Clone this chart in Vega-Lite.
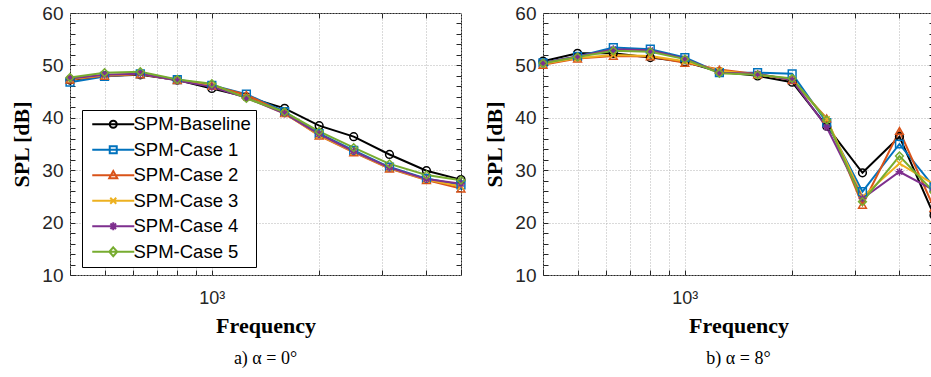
{
  "$schema": "https://vega.github.io/schema/vega-lite/v6.json",
  "background": "white",
  "padding": {"left": 10, "top": 3, "right": 0, "bottom": 0},
  "datasets": {
    "a": [
      {"f": 400, "s": "SPM-Baseline", "v": 47.2}, {"f": 500, "s": "SPM-Baseline", "v": 48.0}, {"f": 630, "s": "SPM-Baseline", "v": 48.2}, {"f": 800, "s": "SPM-Baseline", "v": 47.2}, {"f": 1000, "s": "SPM-Baseline", "v": 45.6}, {"f": 1250, "s": "SPM-Baseline", "v": 44.0}, {"f": 1600, "s": "SPM-Baseline", "v": 41.8}, {"f": 2000, "s": "SPM-Baseline", "v": 38.5}, {"f": 2500, "s": "SPM-Baseline", "v": 36.4}, {"f": 3150, "s": "SPM-Baseline", "v": 33.0}, {"f": 4000, "s": "SPM-Baseline", "v": 29.9}, {"f": 5000, "s": "SPM-Baseline", "v": 28.2},
      {"f": 400, "s": "SPM-Case 1", "v": 46.8}, {"f": 500, "s": "SPM-Case 1", "v": 47.9}, {"f": 630, "s": "SPM-Case 1", "v": 48.4}, {"f": 800, "s": "SPM-Case 1", "v": 47.3}, {"f": 1000, "s": "SPM-Case 1", "v": 46.2}, {"f": 1250, "s": "SPM-Case 1", "v": 44.5}, {"f": 1600, "s": "SPM-Case 1", "v": 41.2}, {"f": 2000, "s": "SPM-Case 1", "v": 37.0}, {"f": 2500, "s": "SPM-Case 1", "v": 33.8}, {"f": 3150, "s": "SPM-Case 1", "v": 30.6}, {"f": 4000, "s": "SPM-Case 1", "v": 28.4}, {"f": 5000, "s": "SPM-Case 1", "v": 27.2},
      {"f": 400, "s": "SPM-Case 2", "v": 47.3}, {"f": 500, "s": "SPM-Case 2", "v": 48.0}, {"f": 630, "s": "SPM-Case 2", "v": 48.3}, {"f": 800, "s": "SPM-Case 2", "v": 47.2}, {"f": 1000, "s": "SPM-Case 2", "v": 46.1}, {"f": 1250, "s": "SPM-Case 2", "v": 44.4}, {"f": 1600, "s": "SPM-Case 2", "v": 40.9}, {"f": 2000, "s": "SPM-Case 2", "v": 36.6}, {"f": 2500, "s": "SPM-Case 2", "v": 33.4}, {"f": 3150, "s": "SPM-Case 2", "v": 30.3}, {"f": 4000, "s": "SPM-Case 2", "v": 28.1}, {"f": 5000, "s": "SPM-Case 2", "v": 26.5},
      {"f": 400, "s": "SPM-Case 3", "v": 47.4}, {"f": 500, "s": "SPM-Case 3", "v": 48.1}, {"f": 630, "s": "SPM-Case 3", "v": 48.4}, {"f": 800, "s": "SPM-Case 3", "v": 47.2}, {"f": 1000, "s": "SPM-Case 3", "v": 46.0}, {"f": 1250, "s": "SPM-Case 3", "v": 43.9}, {"f": 1600, "s": "SPM-Case 3", "v": 40.8}, {"f": 2000, "s": "SPM-Case 3", "v": 36.7}, {"f": 2500, "s": "SPM-Case 3", "v": 33.5}, {"f": 3150, "s": "SPM-Case 3", "v": 30.4}, {"f": 4000, "s": "SPM-Case 3", "v": 28.2}, {"f": 5000, "s": "SPM-Case 3", "v": 26.9},
      {"f": 400, "s": "SPM-Case 4", "v": 47.5}, {"f": 500, "s": "SPM-Case 4", "v": 48.2}, {"f": 630, "s": "SPM-Case 4", "v": 48.4}, {"f": 800, "s": "SPM-Case 4", "v": 47.1}, {"f": 1000, "s": "SPM-Case 4", "v": 45.9}, {"f": 1250, "s": "SPM-Case 4", "v": 43.8}, {"f": 1600, "s": "SPM-Case 4", "v": 40.8}, {"f": 2000, "s": "SPM-Case 4", "v": 36.9}, {"f": 2500, "s": "SPM-Case 4", "v": 33.6}, {"f": 3150, "s": "SPM-Case 4", "v": 30.5}, {"f": 4000, "s": "SPM-Case 4", "v": 28.3}, {"f": 5000, "s": "SPM-Case 4", "v": 27.4},
      {"f": 400, "s": "SPM-Case 5", "v": 47.7}, {"f": 500, "s": "SPM-Case 5", "v": 48.6}, {"f": 630, "s": "SPM-Case 5", "v": 48.8}, {"f": 800, "s": "SPM-Case 5", "v": 47.3}, {"f": 1000, "s": "SPM-Case 5", "v": 46.5}, {"f": 1250, "s": "SPM-Case 5", "v": 43.7}, {"f": 1600, "s": "SPM-Case 5", "v": 41.1}, {"f": 2000, "s": "SPM-Case 5", "v": 37.4}, {"f": 2500, "s": "SPM-Case 5", "v": 34.3}, {"f": 3150, "s": "SPM-Case 5", "v": 31.2}, {"f": 4000, "s": "SPM-Case 5", "v": 29.1}, {"f": 5000, "s": "SPM-Case 5", "v": 28.1}
    ],
    "b": [
      {"f": 400, "s": "SPM-Baseline", "v": 50.8}, {"f": 500, "s": "SPM-Baseline", "v": 52.3}, {"f": 630, "s": "SPM-Baseline", "v": 52.3}, {"f": 800, "s": "SPM-Baseline", "v": 51.5}, {"f": 1000, "s": "SPM-Baseline", "v": 50.7}, {"f": 1250, "s": "SPM-Baseline", "v": 48.8}, {"f": 1600, "s": "SPM-Baseline", "v": 48.0}, {"f": 2000, "s": "SPM-Baseline", "v": 46.8}, {"f": 2500, "s": "SPM-Baseline", "v": 38.4}, {"f": 3150, "s": "SPM-Baseline", "v": 29.5}, {"f": 4000, "s": "SPM-Baseline", "v": 36.4}, {"f": 5000, "s": "SPM-Baseline", "v": 21.4},
      {"f": 400, "s": "SPM-Case 1", "v": 50.5}, {"f": 500, "s": "SPM-Case 1", "v": 51.7}, {"f": 630, "s": "SPM-Case 1", "v": 53.4}, {"f": 800, "s": "SPM-Case 1", "v": 53.1}, {"f": 1000, "s": "SPM-Case 1", "v": 51.5}, {"f": 1250, "s": "SPM-Case 1", "v": 48.6}, {"f": 1600, "s": "SPM-Case 1", "v": 48.6}, {"f": 2000, "s": "SPM-Case 1", "v": 48.4}, {"f": 2500, "s": "SPM-Case 1", "v": 39.1}, {"f": 3150, "s": "SPM-Case 1", "v": 25.9}, {"f": 4000, "s": "SPM-Case 1", "v": 35.0}, {"f": 5000, "s": "SPM-Case 1", "v": 26.8},
      {"f": 400, "s": "SPM-Case 2", "v": 50.1}, {"f": 500, "s": "SPM-Case 2", "v": 51.3}, {"f": 630, "s": "SPM-Case 2", "v": 51.8}, {"f": 800, "s": "SPM-Case 2", "v": 51.7}, {"f": 1000, "s": "SPM-Case 2", "v": 50.5}, {"f": 1250, "s": "SPM-Case 2", "v": 49.2}, {"f": 1600, "s": "SPM-Case 2", "v": 48.3}, {"f": 2000, "s": "SPM-Case 2", "v": 47.2}, {"f": 2500, "s": "SPM-Case 2", "v": 39.9}, {"f": 3150, "s": "SPM-Case 2", "v": 23.4}, {"f": 4000, "s": "SPM-Case 2", "v": 37.5}, {"f": 5000, "s": "SPM-Case 2", "v": 22.8},
      {"f": 400, "s": "SPM-Case 3", "v": 50.3}, {"f": 500, "s": "SPM-Case 3", "v": 51.4}, {"f": 630, "s": "SPM-Case 3", "v": 52.0}, {"f": 800, "s": "SPM-Case 3", "v": 51.8}, {"f": 1000, "s": "SPM-Case 3", "v": 50.8}, {"f": 1250, "s": "SPM-Case 3", "v": 49.0}, {"f": 1600, "s": "SPM-Case 3", "v": 48.2}, {"f": 2000, "s": "SPM-Case 3", "v": 47.4}, {"f": 2500, "s": "SPM-Case 3", "v": 39.7}, {"f": 3150, "s": "SPM-Case 3", "v": 24.9}, {"f": 4000, "s": "SPM-Case 3", "v": 31.3}, {"f": 5000, "s": "SPM-Case 3", "v": 27.3},
      {"f": 400, "s": "SPM-Case 4", "v": 50.5}, {"f": 500, "s": "SPM-Case 4", "v": 51.7}, {"f": 630, "s": "SPM-Case 4", "v": 53.1}, {"f": 800, "s": "SPM-Case 4", "v": 52.9}, {"f": 1000, "s": "SPM-Case 4", "v": 51.3}, {"f": 1250, "s": "SPM-Case 4", "v": 48.6}, {"f": 1600, "s": "SPM-Case 4", "v": 48.4}, {"f": 2000, "s": "SPM-Case 4", "v": 47.2}, {"f": 2500, "s": "SPM-Case 4", "v": 38.2}, {"f": 3150, "s": "SPM-Case 4", "v": 24.6}, {"f": 4000, "s": "SPM-Case 4", "v": 29.7}, {"f": 5000, "s": "SPM-Case 4", "v": 26.2},
      {"f": 400, "s": "SPM-Case 5", "v": 50.4}, {"f": 500, "s": "SPM-Case 5", "v": 51.6}, {"f": 630, "s": "SPM-Case 5", "v": 52.8}, {"f": 800, "s": "SPM-Case 5", "v": 52.6}, {"f": 1000, "s": "SPM-Case 5", "v": 51.2}, {"f": 1250, "s": "SPM-Case 5", "v": 48.5}, {"f": 1600, "s": "SPM-Case 5", "v": 48.2}, {"f": 2000, "s": "SPM-Case 5", "v": 47.5}, {"f": 2500, "s": "SPM-Case 5", "v": 39.6}, {"f": 3150, "s": "SPM-Case 5", "v": 24.0}, {"f": 4000, "s": "SPM-Case 5", "v": 32.7}, {"f": 5000, "s": "SPM-Case 5", "v": 25.8}
    ]
  },
  "spacing": 82,
  "bounds": "flush",
  "resolve": {"scale": {"color": "independent", "shape": "independent"}},
  "hconcat": [
    {
      "width": 391,
      "height": 262,
      "data": {"name": "a"},
      "title": {"text": "a) α = 0°", "orient": "bottom"},
      "resolve": {"scale": {"color": "independent", "shape": "independent"}, "axis": {"x": "independent", "y": "independent"}},
      "layer": [
        {
          "mark": {"type": "line", "strokeWidth": 2},
          "encoding": {
            "x": {"field": "f", "type": "quantitative", "scale": {"type": "log", "domain": [400, 5000], "nice": false},
              "axis": {"title": "Frequency", "values": [400, 500, 600, 700, 800, 900, 1000, 2000, 3000, 4000, 5000], "labelExpr": "datum.value == 1000 ? '10³' : ''", "grid": true, "labelFontSize": 18, "labelPadding": 19}},
            "y": {"field": "v", "type": "quantitative", "scale": {"domain": [10, 60], "nice": false},
              "axis": {"title": "SPL [dB]", "values": [10, 12, 14, 16, 18, 20, 22, 24, 26, 28, 30, 32, 34, 36, 38, 40, 42, 44, 46, 48, 50, 52, 54, 56, 58, 60], "labelExpr": "datum.value % 10 == 0 ? datum.label : ''", "grid": true, "gridOpacity": {"condition": {"test": "datum.value % 10 == 0", "value": 1}, "value": 0}}},
            "color": {"field": "s", "type": "nominal", "legend": null, "scale": {"domain": ["SPM-Baseline", "SPM-Case 1", "SPM-Case 2", "SPM-Case 3", "SPM-Case 4", "SPM-Case 5"], "range": ["#000000", "#0072BD", "#D95319", "#EDB120", "#7E2F8E", "#77AC30"]}}
          }
        },
        {
          "mark": {"type": "point", "filled": false, "size": 60, "strokeWidth": 1.5, "opacity": 1},
          "encoding": {
            "x": {"field": "f", "type": "quantitative", "axis": {"orient": "top", "title": null, "labels": false, "grid": false, "values": [500, 600, 700, 800, 900, 1000, 2000, 3000, 4000]}},
            "y": {"field": "v", "type": "quantitative", "axis": {"orient": "right", "title": null, "labels": false, "grid": false, "values": [12, 14, 16, 18, 20, 22, 24, 26, 28, 30, 32, 34, 36, 38, 40, 42, 44, 46, 48, 50, 52, 54, 56, 58]}},
            "color": {"field": "s", "type": "nominal", "legend": null, "scale": {"domain": ["SPM-Baseline", "SPM-Case 1", "SPM-Case 2", "SPM-Case 3", "SPM-Case 4", "SPM-Case 5"], "range": ["#000000", "#0072BD", "#D95319", "#EDB120", "#7E2F8E", "#77AC30"]}},
            "shape": {"field": "s", "type": "nominal", "legend": null, "scale": {"domain": ["SPM-Baseline", "SPM-Case 1", "SPM-Case 2", "SPM-Case 3", "SPM-Case 4", "SPM-Case 5"], "range": ["circle", "square", "triangle-up", "M-0.8,-0.8L0.8,0.8M-0.8,0.8L0.8,-0.8", "M-1,0L1,0M0,-1L0,1M-0.7,-0.7L0.7,0.7M-0.7,0.7L0.7,-0.7", "diamond"]}}
          }
        },
        {
          "transform": [{"filter": "datum.v < 0"}],
          "mark": {"type": "point", "filled": false, "strokeWidth": 2, "opacity": 1},
          "encoding": {
            "x": {"field": "f", "type": "quantitative", "axis": null},
            "y": {"field": "v", "type": "quantitative", "axis": null},
            "color": {"field": "s", "type": "nominal", "title": null,
              "legend": {"orient": "none", "legendX": 12, "legendY": 97},
              "scale": {"domain": ["SPM-Baseline", "SPM-Case 1", "SPM-Case 2", "SPM-Case 3", "SPM-Case 4", "SPM-Case 5"], "range": ["#000000", "#0072BD", "#D95319", "#EDB120", "#7E2F8E", "#77AC30"]}},
            "shape": {"field": "s", "type": "nominal", "title": null,
              "legend": {"orient": "none", "legendX": 12, "legendY": 97},
              "scale": {"domain": ["SPM-Baseline", "SPM-Case 1", "SPM-Case 2", "SPM-Case 3", "SPM-Case 4", "SPM-Case 5"], "range": [
                "M-1,0L9.5,0M5.125,0A0.875,0.875,0,1,1,3.375,0A0.875,0.875,0,1,1,5.125,0",
                "M-1,0L9.5,0M3.375,-0.875L5.125,-0.875L5.125,0.875L3.375,0.875Z",
                "M-1,0L9.5,0M4.25,-1.05L5.25,0.75L3.25,0.75Z",
                "M-1,0L9.5,0M3.5,-0.75L5,0.75M3.5,0.75L5,-0.75",
                "M-1,0L9.5,0M3.25,0L5.25,0M4.25,-1L4.25,1M3.55,-0.7L4.95,0.7M3.55,0.7L4.95,-0.7",
                "M-1,0L9.5,0M4.25,-1.1L5.25,0L4.25,1.1L3.25,0Z"]}}
          }
        }
      ]
    },
    {
      "width": 391,
      "height": 262,
      "data": {"name": "b"},
      "title": {"text": "b) α = 8°", "orient": "bottom"},
      "resolve": {"scale": {"color": "independent", "shape": "independent"}, "axis": {"x": "independent", "y": "independent"}},
      "layer": [
        {
          "mark": {"type": "line", "strokeWidth": 2},
          "encoding": {
            "x": {"field": "f", "type": "quantitative", "scale": {"type": "log", "domain": [400, 5000], "nice": false},
              "axis": {"title": "Frequency", "values": [400, 500, 600, 700, 800, 900, 1000, 2000, 3000, 4000, 5000], "labelExpr": "datum.value == 1000 ? '10³' : ''", "grid": true, "labelFontSize": 18, "labelPadding": 19}},
            "y": {"field": "v", "type": "quantitative", "scale": {"domain": [10, 60], "nice": false},
              "axis": {"title": "SPL [dB]", "values": [10, 12, 14, 16, 18, 20, 22, 24, 26, 28, 30, 32, 34, 36, 38, 40, 42, 44, 46, 48, 50, 52, 54, 56, 58, 60], "labelExpr": "datum.value % 10 == 0 ? datum.label : ''", "grid": true, "gridOpacity": {"condition": {"test": "datum.value % 10 == 0", "value": 1}, "value": 0}}},
            "color": {"field": "s", "type": "nominal", "legend": null, "scale": {"domain": ["SPM-Baseline", "SPM-Case 1", "SPM-Case 2", "SPM-Case 3", "SPM-Case 4", "SPM-Case 5"], "range": ["#000000", "#0072BD", "#D95319", "#EDB120", "#7E2F8E", "#77AC30"]}}
          }
        },
        {
          "mark": {"type": "point", "filled": false, "size": 60, "strokeWidth": 1.5, "opacity": 1},
          "encoding": {
            "x": {"field": "f", "type": "quantitative", "axis": {"orient": "top", "title": null, "labels": false, "grid": false, "values": [500, 600, 700, 800, 900, 1000, 2000, 3000, 4000]}},
            "y": {"field": "v", "type": "quantitative", "axis": {"orient": "right", "title": null, "labels": false, "grid": false, "values": [12, 14, 16, 18, 20, 22, 24, 26, 28, 30, 32, 34, 36, 38, 40, 42, 44, 46, 48, 50, 52, 54, 56, 58]}},
            "color": {"field": "s", "type": "nominal", "legend": null, "scale": {"domain": ["SPM-Baseline", "SPM-Case 1", "SPM-Case 2", "SPM-Case 3", "SPM-Case 4", "SPM-Case 5"], "range": ["#000000", "#0072BD", "#D95319", "#EDB120", "#7E2F8E", "#77AC30"]}},
            "shape": {"field": "s", "type": "nominal", "legend": null, "scale": {"domain": ["SPM-Baseline", "SPM-Case 1", "SPM-Case 2", "SPM-Case 3", "SPM-Case 4", "SPM-Case 5"], "range": ["circle", "square", "triangle-up", "M-0.8,-0.8L0.8,0.8M-0.8,0.8L0.8,-0.8", "M-1,0L1,0M0,-1L0,1M-0.7,-0.7L0.7,0.7M-0.7,0.7L0.7,-0.7", "diamond"]}}
          }
        }
      ]
    }
  ],
  "config": {
    "view": {"stroke": "#262626", "strokeWidth": 1},
    "axis": {
      "domain": false,
      "tickColor": "#262626",
      "tickSize": -5,
      "tickWidth": 1,
      "labelFont": "Liberation Sans",
      "labelFontSize": 19,
      "labelColor": "#262626",
      "labelPadding": 12,
      "titleFont": "Liberation Serif",
      "titleFontWeight": "bold",
      "titleFontSize": 22,
      "titleColor": "#000000",
      "titlePadding": 8,
      "gridColor": "#b4b4b4",
      "gridDash": [1, 2],
      "gridWidth": 1
    },
    "legend": {
      "labelFont": "Liberation Sans",
      "labelFontSize": 18.5,
      "labelColor": "#000000",
      "padding": 5,
      "rowPadding": 6.5,
      "strokeColor": "#000000",
      "fillColor": "#ffffff",
      "symbolSize": 64,
      "symbolStrokeWidth": 2,
      "labelOffset": 28,
      "cornerRadius": 0
    },
    "title": {
      "font": "Liberation Serif",
      "fontSize": 18,
      "fontWeight": "normal",
      "color": "#000000",
      "offset": 14
    }
  }
}
